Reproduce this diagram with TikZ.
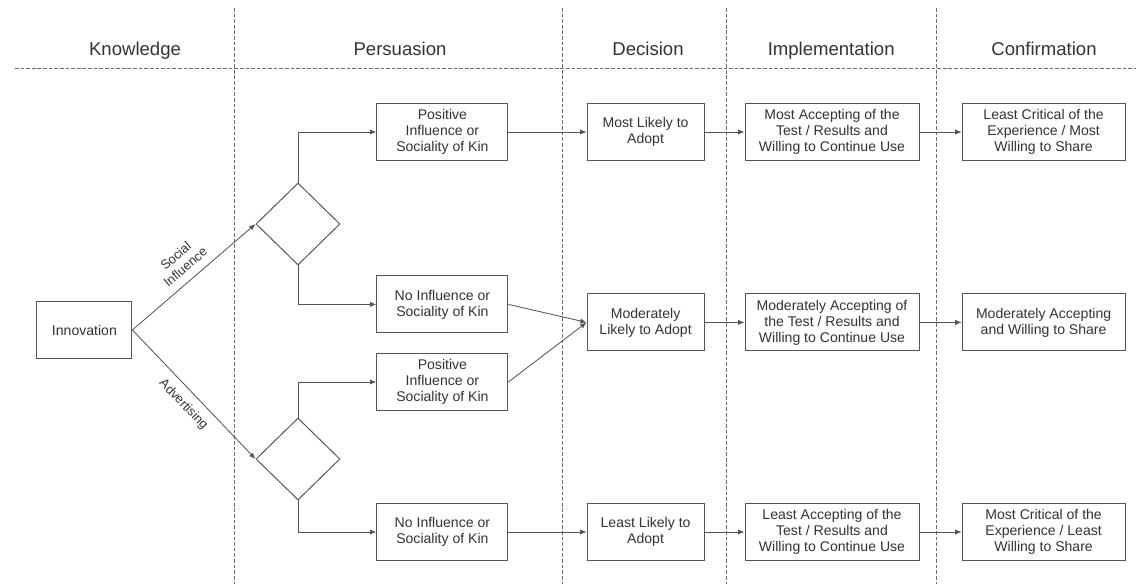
\documentclass[tikz,border=0pt]{standalone}
\usepackage{fontspec}
\setmainfont{Liberation Sans}
\usepackage{tikz}
\usetikzlibrary{arrows.meta,positioning,shapes.geometric}
\definecolor{lgray}{HTML}{555555}
\definecolor{tgray}{HTML}{333333}
\definecolor{sgray}{HTML}{6E6E6E}
\tikzset{
  % Plain outlined box, width given as the argument.
  stage/.style   = {rectangle, draw=lgray, line width=0.7pt, fill=white, align=center,
                    text=tgray, font=\fontsize{10}{11.4}\selectfont,
                    minimum width=#1, minimum height=1.425cm, inner sep=2pt},
  stage/.default = 3cm,
  choice/.style  = {diamond, draw=lgray, line width=0.7pt, fill=white,
                    minimum width=2.1cm, minimum height=2.05cm, inner sep=0pt},
  arr/.style     = {-{Latex[length=1.6mm,width=1.3mm]}, line width=0.6pt, lgray},
  hdr/.style     = {font=\fontsize{13.2}{15}\selectfont, text=tgray, anchor=base},
  lbl/.style     = {font=\fontsize{9.2}{10.4}\selectfont, text=tgray, align=center},
  sep/.style     = {sgray, line width=0.6pt, dash pattern=on 2.6pt off 1.4pt},
}

\begin{document}
\begin{tikzpicture}[x=1cm,y=1cm]
\useasboundingbox (0,0) rectangle (28.4,14.6);
% phase headers
\node[hdr] (hk) at (3.375,13.2) {Knowledge};
\node[hdr] (hp) at (10.0,13.2)  {Persuasion};
\node[hdr] (hd) at (16.2,13.2)  {Decision};
\node[hdr] (hi) at (20.78,13.2) {Implementation};
\node[hdr] (hc) at (26.1,13.2)  {Confirmation};
% phase separators
\draw[sep] (0.375,12.9) -- (28.4,12.9);
\foreach \x in {5.85,14.05,18.15,23.4}
  {\draw[sep] (\x,14.4) -- (\x,0);}
% source and splits
\node[stage=2.375cm] (inno) at (2.11,6.35) {Innovation};
\node[choice] (dm1) at (7.45,9.0) {};
\node[choice] (dm2) at (7.45,3.125) {};
% persuasion
\node[stage=3.275cm] (p1) at (11.06,11.3) {Positive\\Influence or\\Sociality of Kin};
\node[stage=3.275cm] (p2) at (11.06,6.99) {No Influence or\\Sociality of Kin};
\node[stage=3.275cm] (p3) at (11.06,5.05) {Positive\\Influence or\\Sociality of Kin};
\node[stage=3.275cm] (p4) at (11.06,1.3)  {No Influence or\\Sociality of Kin};
% decision
\node[stage=2.925cm] (d1) at (16.14,11.3) {Most Likely to\\Adopt};
\node[stage=2.925cm] (d2) at (16.14,6.54) {Moderately\\Likely to Adopt};
\node[stage=2.925cm] (d3) at (16.14,1.3)  {Least Likely to\\Adopt};
% implementation
\node[stage=4.35cm] (i1) at (20.8,11.3) {Most Accepting of the\\Test / Results and\\Willing to Continue Use};
\node[stage=4.35cm] (i2) at (20.8,6.54) {Moderately Accepting of\\the Test / Results and\\Willing to Continue Use};
\node[stage=4.35cm] (i3) at (20.8,1.3)  {Least Accepting of the\\Test / Results and\\Willing to Continue Use};
% confirmation
\node[stage=4.075cm] (c1) at (26.09,11.3) {Least Critical of the\\Experience / Most\\Willing to Share};
\node[stage=4.075cm] (c2) at (26.09,6.54) {Moderately Accepting\\and Willing to Share};
\node[stage=4.075cm] (c3) at (26.09,1.3)  {Most Critical of the\\Experience / Least\\Willing to Share};
% links
\draw[arr] (inno.east) -- (dm1.west) node[pos=0.5, above=2.5pt, sloped, lbl] {Social\\Influence};
\draw[arr] (inno.east) -- (dm2.west) node[pos=0.5, below=2.5pt, sloped, lbl] {Advertising};
\draw[arr] (dm1.north) |- (p1.west);
\draw[arr] (dm1.south) |- (p2.west);
\draw[arr] (dm2.north) |- (p3.west);
\draw[arr] (dm2.south) |- (p4.west);
\draw[arr] (p1) -- (d1);
\draw[arr] (p2.east) -- (d2.west);
\draw[arr] (p3.east) -- (d2.west);
\draw[arr] (p4) -- (d3);
\foreach \r in {1,2,3}
  {\draw[arr] (d\r) -- (i\r);
   \draw[arr] (i\r) -- (c\r);}
\end{tikzpicture}
\end{document}
